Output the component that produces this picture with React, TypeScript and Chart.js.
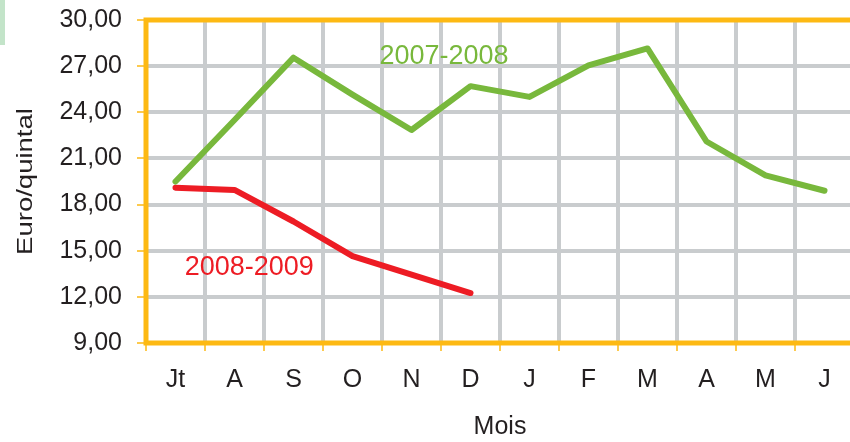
import React, { useEffect, useRef } from "react";
import { Chart, registerables } from "chart.js";

Chart.register(...registerables);

const months = ["Jt", "A", "S", "O", "N", "D", "J", "F", "M", "A", "M", "J"];
const series20072008 = [19.5, 23.5, 27.55, 25.15, 22.85, 25.7, 25.0, 27.05, 28.15, 22.1, 19.9, 18.9];
const series20082009 = [19.1, 18.95, 16.9, 14.65, 13.45, 12.25];
const yTicksMin = 9;
const yTicksMax = 30;
const yTicksStep = 3;
const yTitle = "Euro/quintal";
const xTitle = "Mois";
const seriesLabels = ["2007-2008", "2008-2009"];
const labelAnchors = [
  { x: 4.55, y: 27.6 },
  { x: 1.25, y: 13.9 },
];

const GOLD = "#fdb913";
const GRID = "#c9ccce";
const GREEN = "#78b83c";
const RED = "#ed1c24";
const FONT = "'Liberation Sans', Arial, Helvetica, sans-serif";
const TEXT = "#231f20";

const framePlugin = {
  id: "frame",
  beforeDatasetsDraw(chart: any) {
    const { ctx, chartArea } = chart;
    ctx.save();
    ctx.strokeStyle = GOLD;
    ctx.lineWidth = 5;
    ctx.strokeRect(chartArea.left, chartArea.top, chartArea.right - chartArea.left, chartArea.bottom - chartArea.top);
    ctx.restore();
  },
  afterDatasetsDraw(chart: any) {
    const { ctx, chartArea } = chart;
    const xs = chart.scales.x;
    const ys = chart.scales.y;
    const colors = [GREEN, RED];
    ctx.save();
    ctx.font = `27px ${FONT}`;
    ctx.textAlign = "center";
    ctx.textBaseline = "middle";
    seriesLabels.forEach((t, i) => {
      ctx.fillStyle = colors[i];
      ctx.fillText(t, xs.getPixelForValue(labelAnchors[i].x), ys.getPixelForValue(labelAnchors[i].y));
    });
    ctx.restore();
    // y-axis title, stretched along its length like the reference
    ctx.save();
    ctx.font = `22px ${FONT}`;
    ctx.fillStyle = TEXT;
    ctx.textAlign = "center";
    ctx.textBaseline = "middle";
    ctx.translate(26, (chartArea.top + chartArea.bottom) / 2);
    ctx.rotate(-Math.PI / 2);
    ctx.scale(1.25, 1);
    ctx.fillText(yTitle, 0, 0);
    ctx.restore();
  },
};

export default function App() {
  const ref = useRef<HTMLCanvasElement>(null);
  useEffect(() => {
    if (!ref.current) return;
    const chart = new Chart(ref.current, {
      type: "line",
      data: {
        labels: months,
        datasets: [
          {
            label: seriesLabels[0],
            data: series20072008,
            borderColor: GREEN,
            borderWidth: 6,
            pointRadius: 0,
            borderCapStyle: "round",
            borderJoinStyle: "round",
            tension: 0,
          },
          {
            label: seriesLabels[1],
            data: series20082009,
            borderColor: RED,
            borderWidth: 6,
            pointRadius: 0,
            borderCapStyle: "round",
            borderJoinStyle: "round",
            tension: 0,
          },
        ],
      },
      options: {
        responsive: false,
        animation: false,
        layout: { padding: { top: 20, right: 6, left: 0, bottom: 0 } },
        plugins: { legend: { display: false }, tooltip: { enabled: false } },
        scales: {
          x: {
            type: "category",
            offset: true,
            grid: {
              offset: true,
              color: GRID,
              lineWidth: 4,
              tickColor: GOLD,
              tickWidth: 1.5,
              tickLength: 8,
            },
            border: { display: false },
            ticks: {
              color: TEXT,
              font: { family: FONT, size: 25 },
              padding: 14,
              maxRotation: 0,
              autoSkip: false,
            },
            title: {
              display: true,
              text: xTitle,
              color: TEXT,
              font: { family: FONT, size: 25 },
              padding: { top: 0, bottom: 0 },
            },
            afterFit(scale: any) {
              scale.height = 99;
              scale.paddingLeft = 0;
              scale.paddingRight = 0;
            },
          },
          y: {
            min: yTicksMin,
            max: yTicksMax,
            grid: {
              color: GRID,
              lineWidth: 4,
              tickColor: GOLD,
              tickWidth: 1.5,
              tickLength: 9,
            },
            border: { display: false },
            ticks: {
              stepSize: yTicksStep,
              color: TEXT,
              font: { family: FONT, size: 25 },
              padding: 15,
              callback: (v: any) => Number(v).toFixed(2).replace(".", ","),
            },
            title: { display: false },
            afterFit(scale: any) {
              scale.width = 146;
              scale.paddingTop = 0;
              scale.paddingBottom = 0;
            },
          },
        },
      },
      plugins: [framePlugin],
    } as any);
    return () => chart.destroy();
  }, []);
  return (
    <div style={{ position: "absolute", left: 0, top: 0, width: 850, height: 442, overflow: "hidden", background: "#fff" }}>
      <div style={{ position: "absolute", left: 0, top: 0, width: 5, height: 45, background: "#c3e4c9" }} />
      <canvas ref={ref} width={860} height={442} style={{ position: "absolute", left: 0, top: 0 }} />
    </div>
  );
}
